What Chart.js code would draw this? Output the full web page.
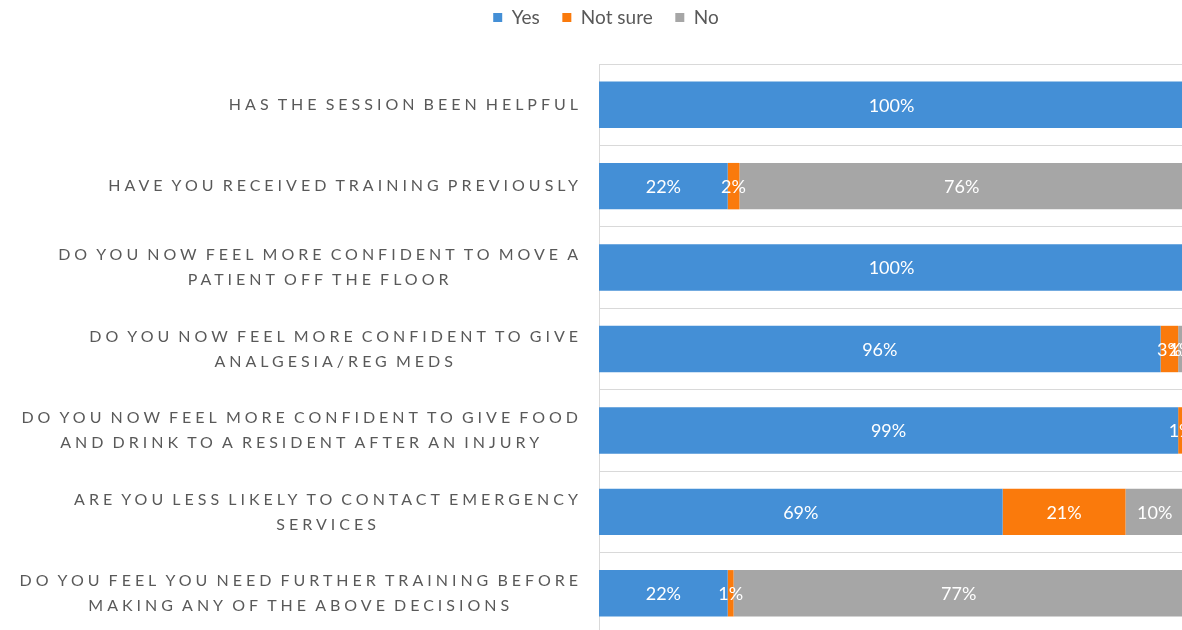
<!DOCTYPE html>
<html>
<head>
<meta charset="utf-8">
<title>Session feedback</title>
<script src="https://cdn.jsdelivr.net/npm/chart.js@4/dist/chart.umd.min.js"></script>
<style>
    html, body { margin: 0; padding: 0; background: #fff; overflow: hidden; }
    #wrap { width: 1186px; height: 636px; }
</style>
</head>
<body>
<div id="wrap"><canvas id="myChart" width="1186" height="636"></canvas></div>
<script>
    "use strict";

    // questions, top to bottom (two-line ones split by hand)
    const questions = [
        "HAS THE SESSION BEEN HELPFUL",
        "HAVE YOU RECEIVED TRAINING PREVIOUSLY",
        ["DO YOU NOW FEEL MORE CONFIDENT TO MOVE A", "PATIENT OFF THE FLOOR"],
        ["DO YOU NOW FEEL MORE CONFIDENT TO GIVE", "ANALGESIA/REG MEDS"],
        ["DO YOU NOW FEEL MORE CONFIDENT TO GIVE FOOD", "AND DRINK TO A RESIDENT AFTER AN INJURY"],
        ["ARE YOU LESS LIKELY TO CONTACT EMERGENCY", "SERVICES"],
        ["DO YOU FEEL YOU NEED FURTHER TRAINING BEFORE", "MAKING ANY OF THE ABOVE DECISIONS"]
    ];

    const yesValues = [100, 22, 100, 96, 99, 69, 22];
    const notSureValues = [0, 2, 0, 3, 1, 21, 1];
    const noValues = [0, 76, 0, 1, 0, 10, 77];

    const textGrey = "#595959";

    // question text: letter-spaced caps, block right-aligned, lines centred
    const questionLabels = {
        id: "questionLabels",
        afterDraw(chart) {
            const ctx = chart.ctx;
            const yScale = chart.scales.y;
            const right = chart.chartArea.left - 17;
            ctx.save();
            ctx.font = "16px Lato";
            ctx.letterSpacing = "4px";
            ctx.wordSpacing = "-3px";
            ctx.fillStyle = textGrey;
            ctx.textAlign = "center";
            ctx.textBaseline = "middle";
            questions.forEach((q, i) => {
                const lines = Array.isArray(q) ? q : [q];
                const w = Math.max(...lines.map(l => ctx.measureText(l).width));
                const cx = right - w / 2;
                const cy = yScale.getPixelForValue(i);
                lines.forEach((line, k) => {
                    ctx.fillText(line, cx, cy + (k - (lines.length - 1) / 2) * 25);
                });
            });
            ctx.restore();
        }
    };

    // percentage in the middle of each segment
    const segmentLabels = {
        id: "segmentLabels",
        afterDatasetsDraw(chart) {
            const ctx = chart.ctx;
            ctx.save();
            ctx.font = "18px Lato";
            ctx.fillStyle = "#ffffff";
            ctx.textAlign = "center";
            ctx.textBaseline = "middle";
            chart.data.datasets.forEach((ds, di) => {
                chart.getDatasetMeta(di).data.forEach((bar, i) => {
                    const v = ds.data[i];
                    if (!v) return;
                    const p = bar.getProps(["x", "base", "y"], true);
                    ctx.fillText(v + "%", (p.x + p.base) / 2, p.y + 1);
                });
            });
            ctx.restore();
        }
    };

    // legend sits in a tall strip so the bars start lower
    const legendStrip = {
        id: "legendStrip",
        beforeInit(chart) {
            const fit = chart.legend.fit;
            chart.legend.fit = function () {
                fit.bind(chart.legend)();
                this.height = 64;
            };
        }
    };

    const ctx = document.getElementById("myChart").getContext("2d");
    const myChart = new Chart(ctx, {
        type: "bar",
        data: {
            labels: questions,
            datasets: [
                { label: "Yes", data: yesValues, backgroundColor: "#448FD6" },
                { label: "Not sure", data: notSureValues, backgroundColor: "#FA7A0C" },
                { label: "No", data: noValues, backgroundColor: "#A6A6A6" }
            ]
        },
        options: {
            indexAxis: "y",
            responsive: false,
            animation: false,
            categoryPercentage: 0.57,
            barPercentage: 1,
            layout: { padding: { left: 28, right: 2, top: 0, bottom: 2 } },
            plugins: {
                tooltip: { enabled: false },
                legend: {
                    position: "top",
                    labels: {
                        color: textGrey,
                        font: { family: "Lato", size: 19 },
                        boxWidth: 9,
                        boxHeight: 9,
                        padding: 8,
                        generateLabels(chart) {
                            const items = Chart.defaults.plugins.legend.labels.generateLabels(chart);
                            items.forEach((it, i) => {
                                it.lineWidth = 0;
                                if (i < items.length - 1) it.text += "   ";
                            });
                            return items;
                        }
                    }
                }
            },
            scales: {
                x: {
                    stacked: true,
                    min: 0,
                    max: 100,
                    display: false
                },
                y: {
                    stacked: true,
                    ticks: { display: false },
                    grid: { color: "#D9D9D9", drawTicks: false, offset: true },
                    border: { color: "#D9D9D9" },
                    afterFit(scale) {
                        scale.width = 571;
                    }
                }
            }
        },
        plugins: [legendStrip, segmentLabels, questionLabels]
    });
</script>
</body>
</html>
